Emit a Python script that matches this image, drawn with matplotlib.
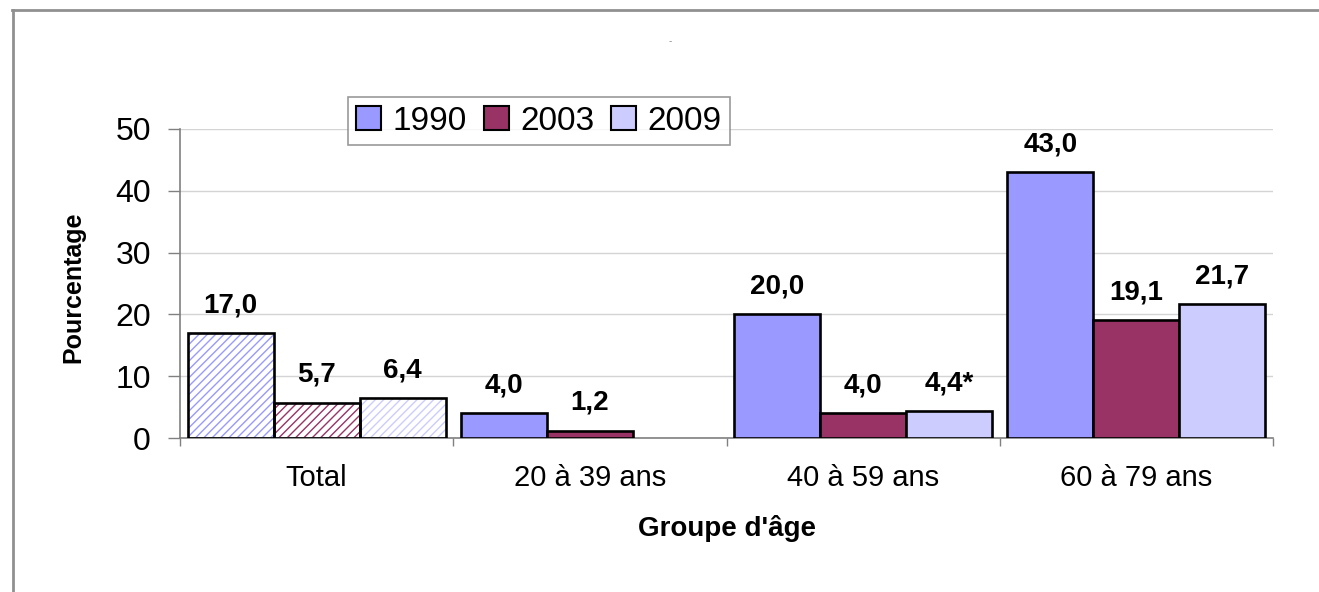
import numpy as np
import matplotlib
matplotlib.use("Agg")
import matplotlib.pyplot as plt
from matplotlib.lines import Line2D

plt.rcParams['font.family'] = ['Liberation Sans', 'DejaVu Sans']
plt.rcParams['hatch.linewidth'] = 1.0

groups = ["Total", "20 à 39 ans", "40 à 59 ans", "60 à 79 ans"]
years = ["1990", "2003", "2009"]
v1990 = [17.0, 4.0, 20.0, 43.0]
v2003 = [5.7, 1.2, 4.0, 19.1]
v2009 = [6.4, np.nan, 4.4, 21.7]
notes2009 = ["", "", "*", ""]
colors = ["#9999FF", "#993366", "#CCCCFF"]
yticks = [0, 10, 20, 30, 40, 50]

fig = plt.figure(figsize=(13.19, 5.92), dpi=100)
ax = fig.add_axes([180 / 1319, 1 - 438 / 592, 1093 / 1319, 309 / 592])

x = np.arange(len(groups))
width = 0.315
series = [v1990, v2003, v2009]
for k, (vals, col) in enumerate(zip(series, colors)):
    pos = x + (k - 1) * width
    for i, v in enumerate(vals):
        if np.isnan(v):
            continue
        if i == 0:
            # hatched "Total" bars
            ax.bar(pos[i], v, width, color="white", edgecolor=col, hatch="////",
                   linewidth=0, zorder=2)
            ax.bar(pos[i], v, width, facecolor="none", edgecolor="black",
                   linewidth=1.9, zorder=3)
        else:
            ax.bar(pos[i], v, width, color=col, edgecolor="black",
                   linewidth=1.9, zorder=3)
        note = notes2009[i] if k == 2 else ""
        ax.annotate(f"{v:.1f}".replace(".", ",") + note, (pos[i], v),
                    xytext=(0, 20), textcoords="offset points",
                    ha="center", va="center", fontsize=20, fontweight="bold")

ax.set_xlim(-0.5, 3.5)
ax.set_ylim(0, 50)
ax.set_yticks(yticks)
ax.set_yticklabels([str(t) for t in yticks], fontsize=23)
ax.tick_params(axis="y", length=9, width=1, color="#808080", pad=12)
ax.set_xticks(x)
ax.set_xticklabels(groups, fontsize=21)
ax.tick_params(axis="x", which="major", length=0, pad=19)
ax.set_xticks(np.arange(-0.5, 4, 1), minor=True)
ax.tick_params(axis="x", which="minor", length=6, width=1, color="#808080")

ax.grid(axis="y", color="#d4d4d4", linewidth=1)
ax.set_axisbelow(True)
for s in ["top", "right"]:
    ax.spines[s].set_visible(False)
for s in ["left", "bottom"]:
    ax.spines[s].set_color("#808080")
    ax.spines[s].set_linewidth(1.2)

ax.set_xlabel("Groupe d'âge", fontsize=20, fontweight="bold", labelpad=16)
fig.text(73 / 1319, 1 - 287 / 592, "Pourcentage", rotation=90, fontsize=18,
         fontweight="bold", ha="center", va="center")

handles = [plt.Rectangle((0, 0), 1, 1, facecolor=c, edgecolor="black", linewidth=1.5)
           for c in colors]
leg = fig.legend(handles, years, ncol=3, loc="center",
                 bbox_to_anchor=(539 / 1319, 1 - 121 / 592), fontsize=24,
                 frameon=True, fancybox=False, edgecolor="#808080",
                 handlelength=0.75, handleheight=0.75, handletextpad=0.35,
                 columnspacing=0.5, borderpad=0.25, borderaxespad=0)
leg.get_frame().set_linewidth(1.2)

# outer frame (top and left edges)
fig.add_artist(Line2D([12 / 1319, 1], [1 - 10 / 592, 1 - 10 / 592],
                      color="#909090", linewidth=2))
fig.add_artist(Line2D([13 / 1319, 13 / 1319], [0, 1 - 10 / 592],
                      color="#909090", linewidth=2))
fig.text(670 / 1319, 1 - 41 / 592, "-", color="#888888", fontsize=7,
         ha="center", va="center")

fig.savefig("out.png", dpi=100)
